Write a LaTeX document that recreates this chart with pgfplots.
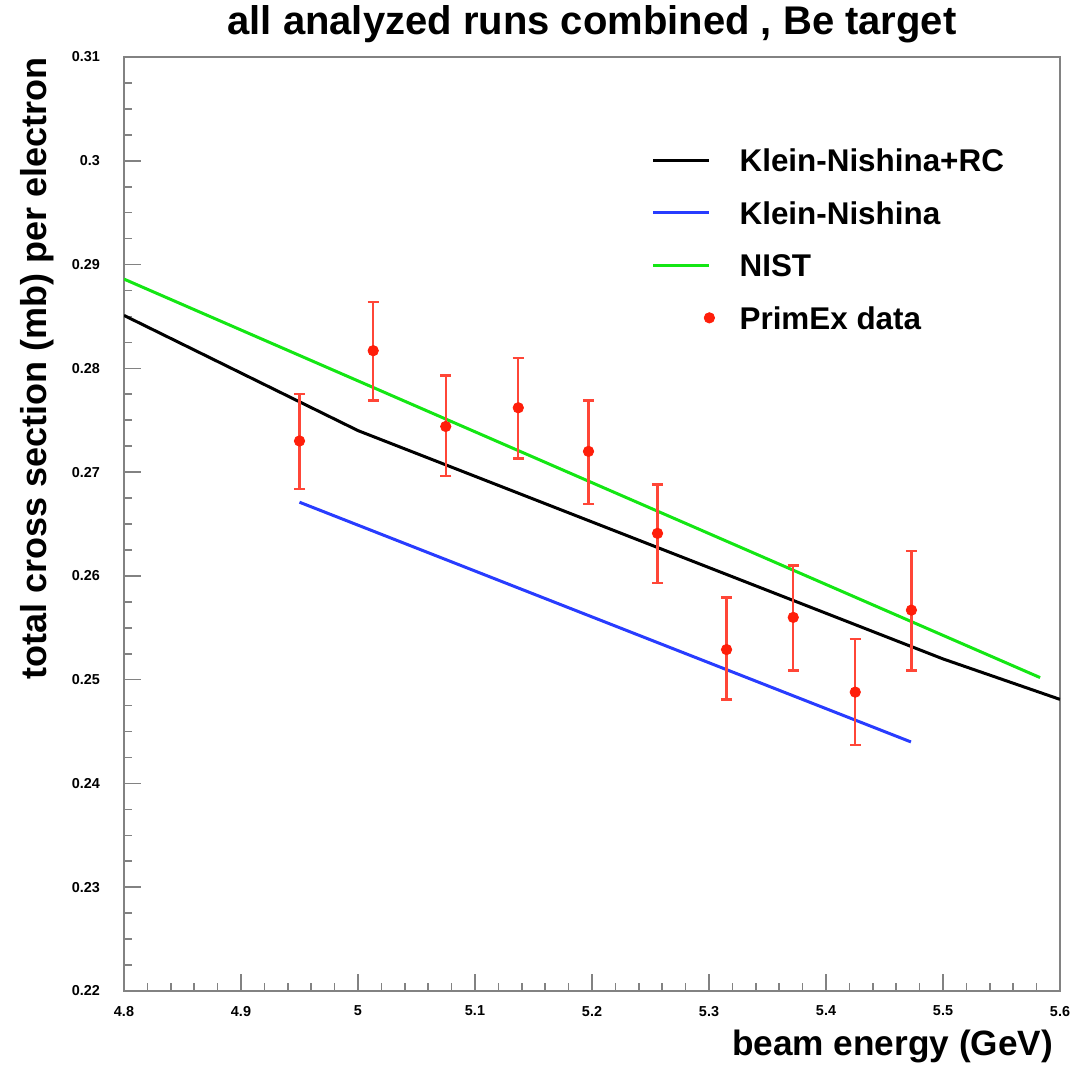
\documentclass[border=0pt]{standalone}
\usepackage{fontspec}
\setmainfont{Liberation Sans}
\usepackage{pgfplots}
\usepackage{pgfplotstable}
\pgfplotsset{compat=1.18}

\definecolor{rcblack}{RGB}{0,0,0}
\definecolor{knblue}{RGB}{40,60,255}
\definecolor{nistgreen}{RGB}{20,230,20}
\definecolor{datared}{RGB}{255,30,10}
\definecolor{barred}{RGB}{255,70,55}
\definecolor{framegray}{RGB}{130,130,130}

\pgfplotsset{
  curve key/.style={legend image code/.code={\draw[##1] (0pt,0pt) -- (28pt,0pt);}},
  dot key/.style={legend image code/.code={\path plot[mark=*, mark size=2.6pt, only marks, mark options={fill=datared, draw=datared}] coordinates {(28pt,0pt)};}},
}

% measured cross sections: energy, value, upper and lower error
\pgfplotstableread{
x      y       ep      em
4.950  0.2730  0.0045  0.0046
5.013  0.2817  0.0047  0.0048
5.075  0.2744  0.0049  0.0048
5.137  0.2762  0.0048  0.0049
5.197  0.2720  0.0049  0.0051
5.256  0.2641  0.0047  0.0048
5.315  0.2529  0.0050  0.0048
5.372  0.2560  0.0050  0.0051
5.425  0.2488  0.0051  0.0051
5.473  0.2567  0.0057  0.0058
}\primex

\begin{document}
\begin{tikzpicture}
\path[use as bounding box] (-62pt,-41.5pt) rectangle (474.5pt,495.5pt);
\begin{axis}[
  at={(0pt,0pt)}, anchor=south west,
  scale only axis, width=468pt, height=467pt,
  xmin=4.8, xmax=5.6, ymin=0.22, ymax=0.31,
  xtick={4.8,4.9,5,5.1,5.2,5.3,5.4,5.5,5.6},
  xticklabels={4.8,4.9,5,5.1,5.2,5.3,5.4,5.5,5.6},
  ytick={0.22,0.23,0.24,0.25,0.26,0.27,0.28,0.29,0.3,0.31},
  yticklabels={0.22,0.23,0.24,0.25,0.26,0.27,0.28,0.29,0.3,0.31},
  minor x tick num=4, minor y tick num=3,
  xtick pos=bottom, ytick pos=left,
  tick align=inside,
  major tick length=8.5pt, minor tick length=4pt,
  every tick/.style={framegray, line width=0.8pt},
  axis line style={framegray, line width=0.8pt},
  ticklabel style={font=\bfseries\fontsize{7.2}{8}\selectfont},
  /pgf/number format/assume math mode=true,
  yticklabel style={xshift=-8.5pt},
  xticklabel style={yshift=-4pt},
  title={all analyzed runs combined , Be target},
  every axis title shift=0pt,
  title style={font=\bfseries\fontsize{20}{24}\selectfont, at={(axis description cs:0.5,1.0236)}, anchor=base, inner sep=0pt},
  xlabel={beam energy (GeV)},
  xlabel style={font=\bfseries\fontsize{17.6}{21}\selectfont, at={(axis description cs:1.0,-0.059)}, anchor=east},
  ylabel={total cross section (mb) per electron},
  ylabel style={font=\bfseries\fontsize{18}{21}\selectfont, at={(axis description cs:-0.093,1.007)}, anchor=east},
  legend cell align=left,
  legend style={draw=none, fill=none, inner sep=0pt, outer sep=0pt,
    at={(axis description cs:0.564,0.902)}, anchor=north west,
    font=\bfseries\fontsize{15.7}{18}\selectfont,
    nodes={inner sep=0pt, text height=11.5pt, text depth=0pt},
    row sep=14.8pt,
    /tikz/every odd column/.append style={column sep=12.5pt}},
]
% Klein-Nishina with radiative corrections
\addplot[rcblack, line width=1.5pt, curve key]
  coordinates {(4.8,0.2851) (5.0,0.2740) (5.5,0.2520) (5.6,0.2481)};
\addlegendentry{Klein-Nishina+RC}
% bare Klein-Nishina
\addplot[knblue, line width=1.5pt, curve key]
  coordinates {(4.95,0.2671) (5.4726,0.2440)};
\addlegendentry{Klein-Nishina}
% NIST tabulation
\addplot[nistgreen, line width=1.5pt, curve key]
  coordinates {(4.8,0.2886) (5.583,0.2502)};
\addlegendentry{NIST}
% PrimEx measurements
\addplot[only marks, mark=*, mark size=2.6pt, dot key,
  mark options={fill=datared, draw=datared},
  error bars/.cd, y dir=both, y explicit,
  error bar style={barred, line width=1.2pt},
  error mark options={rotate=90, mark size=2.8pt, barred, line width=1.2pt}]
  table[x=x, y=y, y error plus=ep, y error minus=em] {\primex};
\addlegendentry{PrimEx data}
\end{axis}
\end{tikzpicture}
\end{document}
